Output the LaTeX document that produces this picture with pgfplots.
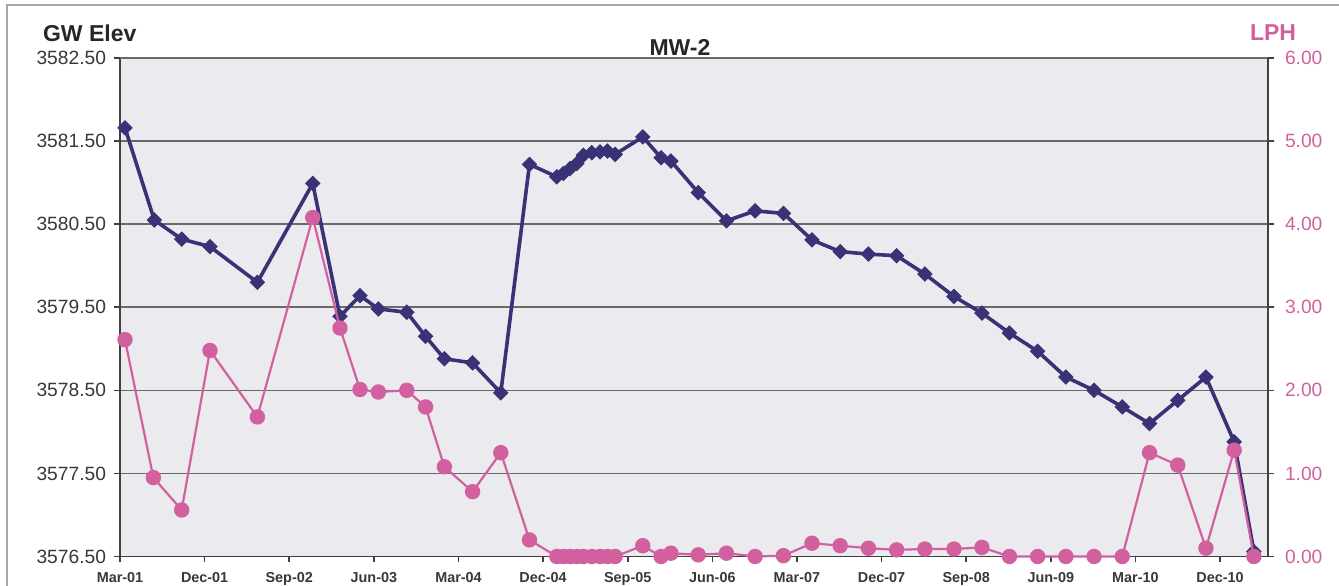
\documentclass[border=0pt]{standalone}
\usepackage{fontspec}
\setmainfont{Liberation Sans}
\usepackage{pgfplots}
\usepackage{pgfplotstable}
\pgfplotsset{compat=1.18}
\definecolor{gwblue}{HTML}{3A3276}
\definecolor{lphpink}{HTML}{D2609F}
\definecolor{plotbg}{HTML}{EBEBEF}
\definecolor{gridc}{HTML}{6A6A6A}
\definecolor{labc}{HTML}{383838}

\pgfplotstableread{
x y
2.53 3581.66
5.65 3580.55
8.56 3580.32
11.57 3580.23
16.61 3579.80
22.50 3580.99
25.40 3579.39
27.53 3579.64
29.48 3579.48
32.50 3579.44
34.50 3579.15
36.50 3578.88
39.50 3578.83
42.50 3578.47
45.55 3581.22
48.46 3581.07
49.16 3581.11
49.87 3581.17
50.59 3581.23
51.29 3581.33
52.18 3581.36
53.06 3581.37
53.84 3581.38
54.66 3581.34
57.60 3581.55
59.55 3581.30
60.60 3581.26
63.50 3580.88
66.50 3580.54
69.55 3580.66
72.56 3580.63
75.60 3580.31
78.60 3580.17
81.60 3580.14
84.60 3580.12
87.60 3579.90
90.70 3579.63
93.67 3579.43
96.60 3579.19
99.60 3578.97
102.60 3578.66
105.60 3578.50
108.60 3578.30
111.50 3578.10
114.50 3578.38
117.50 3578.66
120.50 3577.88
122.60 3576.56
}\gwdata

\pgfplotstableread{
x y
2.53 2.61
5.55 0.95
8.56 0.56
11.57 2.48
16.61 1.68
22.50 4.08
25.40 2.75
27.53 2.01
29.48 1.98
32.50 2.00
34.50 1.80
36.50 1.08
39.50 0.78
42.50 1.25
45.55 0.20
48.46 0
49.16 0
49.87 0
50.59 0
51.29 0
52.18 0
53.06 0
53.84 0
54.66 0
57.60 0.13
59.55 0.00
60.60 0.04
63.50 0.02
66.50 0.04
69.55 0.00
72.56 0.01
75.60 0.16
78.60 0.13
81.60 0.10
84.60 0.08
87.60 0.09
90.70 0.09
93.67 0.11
96.60 0
99.60 0
102.60 0
105.60 0
108.60 0
111.50 1.25
114.50 1.10
117.50 0.10
120.50 1.28
122.60 0
}\lphdata

\begin{document}
\begin{tikzpicture}
\useasboundingbox (-60bp,-14.75bp) rectangle (609.5bp,278.25bp);
\draw[gray!70, line width=0.6bp] (-56.5bp,-14.75bp) -- (-56.5bp,275.75bp) -- (609.5bp,275.75bp);

\begin{axis}[
  at={(0,0)}, anchor=south west,
  scale only axis, width=574bp, height=249.25bp,
  xmin=2, xmax=124.1, ymin=3576.5, ymax=3582.5,
  ytick={3576.5,3577.5,3578.5,3579.5,3580.5,3581.5,3582.5},
  scaled y ticks=false,
  yticklabel style={/pgf/number format/fixed, /pgf/number format/fixed zerofill, /pgf/number format/precision=2, /pgf/number format/1000 sep={}},
  /pgf/number format/assume math mode=true,
  xtick={2,11,20,29,38,47,56,65,74,83,92,101,110,119},
  xticklabels={Mar-01,Dec-01,Sep-02,Jun-03,Mar-04,Dec-04,Sep-05,Jun-06,Mar-07,Dec-07,Sep-08,Jun-09,Mar-10,Dec-10},
  axis background/.style={fill=plotbg},
  ymajorgrids, grid style={gridc, line width=0.8bp},
  axis line style={black!75, line width=0.9bp},
  tick align=outside, major tick length=3bp,
  tick style={black!75, line width=0.8bp},
  axis y line*=left,
  axis x line*=bottom,
  y tick label style={font=\fontsize{9.6bp}{10bp}\selectfont, text=labc, xshift=-0.5bp},
  x tick label style={font=\fontsize{7.2bp}{9bp}\selectfont\bfseries, text=labc, yshift=-1.5bp},
  clip=false,
]
\draw[gridc, line width=0.8bp] (rel axis cs:0,1) -- (rel axis cs:1,1);
\addplot[gwblue, line width=1.8bp, mark=square*, mark size=2.5bp, mark options={solid, rotate=45, fill=gwblue, draw=gwblue, line width=0.5bp}] table[x=x,y=y] {\gwdata};
\end{axis}

\begin{axis}[
  at={(0,0)}, anchor=south west,
  scale only axis, width=574bp, height=249.25bp,
  xmin=2, xmax=124.1, ymin=0, ymax=6,
  ytick={0,1,2,3,4,5,6},
  yticklabel style={/pgf/number format/fixed, /pgf/number format/fixed zerofill, /pgf/number format/precision=2},
  /pgf/number format/assume math mode=true,
  axis y line*=right,
  axis x line=none,
  axis line style={black!75, line width=0.9bp},
  tick align=outside, major tick length=3bp,
  tick style={black!75, line width=0.8bp},
  y tick label style={font=\fontsize{9.6bp}{10bp}\selectfont, text=lphpink, xshift=2bp},
  clip=false,
]
\addplot[lphpink, line width=1.1bp, mark=*, mark size=3.3bp, mark options={solid, fill=lphpink, draw=lphpink}] table[x=x,y=y] {\lphdata};
\end{axis}

\node[anchor=west, font=\fontsize{11.5bp}{12bp}\selectfont\bfseries, text=black!85] at (-42bp,261.75bp) {GW Elev};
\node[anchor=center, font=\fontsize{11.5bp}{12bp}\selectfont\bfseries, text=black!85] at (280bp,254.75bp) {MW-2};
\node[anchor=center, font=\fontsize{11.5bp}{12bp}\selectfont\bfseries, text=lphpink] at (576.5bp,261.75bp) {LPH};
\end{tikzpicture}
\end{document}
